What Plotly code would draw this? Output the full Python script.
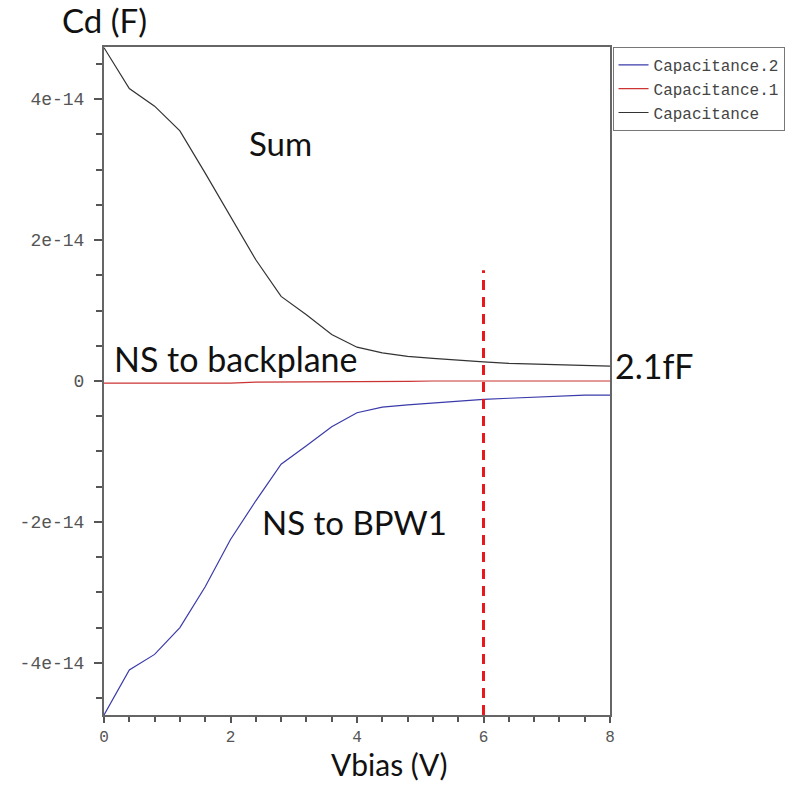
import plotly.graph_objects as go

vbias = [0.0, 0.4, 0.8, 1.2, 1.6, 2.0, 2.4, 2.8, 3.2, 3.6, 4.0,
         4.4, 4.8, 5.2, 5.6, 6.0, 6.4, 6.8, 7.2, 7.6, 8.0]
# values in units of 1e-14 F
cap_sum = [4.73, 4.15, 3.90, 3.55, 2.95, 2.33, 1.72, 1.20, 0.94, 0.66, 0.48,
           0.40, 0.35, 0.32, 0.29, 0.27, 0.25, 0.24, 0.23, 0.22, 0.21]
cap_bpw1 = [-4.74, -4.10, -3.88, -3.50, -2.92, -2.25, -1.70, -1.18, -0.92, -0.65, -0.45,
            -0.37, -0.34, -0.31, -0.285, -0.26, -0.245, -0.23, -0.21, -0.20, -0.20]
cap_backplane = [-0.03, -0.03, -0.03, -0.03, -0.03, -0.03, -0.015, -0.015, -0.015, -0.015, -0.015,
                 -0.005, -0.005, 0.0, 0.0, 0.0, 0.0, 0.0, 0.0, 0.0, 0.0]
scale = 1e-14

ytick_vals = [-4e-14, -2e-14, 0, 2e-14, 4e-14]
ytick_text = ["-4e-14", "-2e-14", "0", "2e-14", "4e-14"]
xtick_vals = [0, 2, 4, 6, 8]
xtick_text = ["0", "2", "4", "6", "8"]
marker_v = 6.0
marker_top = 1.57e-14
y_range = [-4.74e-14, 4.74e-14]

fig = go.Figure()
fig.add_trace(go.Scatter(x=vbias, y=[v * scale for v in cap_bpw1], mode="lines",
                         name="Capacitance.2", line=dict(color="#3a3aaa", width=1.2)))
fig.add_trace(go.Scatter(x=vbias, y=[v * scale for v in cap_backplane], mode="lines",
                         name="Capacitance.1", line=dict(color="#cc3333", width=1.2)))
fig.add_trace(go.Scatter(x=vbias, y=[v * scale for v in cap_sum], mode="lines",
                         name="Capacitance", line=dict(color="#333333", width=1.2)))

fig.add_shape(type="line", x0=marker_v, x1=marker_v, y0=y_range[0], y1=marker_top,
              xref="x", yref="y", line=dict(color="#e8181c", width=3, dash="10px,7px"))

axis_common = dict(showline=True, linecolor="#666666", linewidth=2, mirror=True,
                   showgrid=False, zeroline=False, ticks="outside",
                   tickwidth=1.5, tickcolor="#555555")

fig.update_xaxes(range=[0, 8], tickvals=xtick_vals, ticktext=xtick_text, ticklen=6,
                 tickfont=dict(family="Liberation Mono", size=16, color="#555555"),
                 minor=dict(dtick=0.4, ticks="outside", ticklen=5, tickcolor="#555555", tickwidth=1.5),
                 ticklabelstandoff=0, **axis_common)
fig.update_yaxes(range=y_range, tickvals=ytick_vals, ticktext=ytick_text, ticklen=8,
                 tickfont=dict(family="Liberation Mono", size=18, color="#555555"),
                 minor=dict(dtick=0.5e-14, ticks="outside", ticklen=6, tickcolor="#555555", tickwidth=1.5),
                 ticklabelstandoff=6, **axis_common)

afont = dict(family="Lato", size=33, color="#111111")
fig.add_annotation(text="Cd (F)", xref="paper", yref="paper", x=0.0, y=1.04,
                   xanchor="center", yanchor="middle", showarrow=False, font=afont)
fig.add_annotation(text="Sum", xref="x", yref="y", x=2.26, y=3.38e-14,
                   xanchor="left", yanchor="middle", showarrow=False, font=afont)
fig.add_annotation(text="NS to backplane", xref="x", yref="y", x=0.12, y=0.32e-14,
                   xanchor="left", yanchor="middle", showarrow=False, font=dict(family="Lato", size=34, color="#111111"))
fig.add_annotation(text="2.1fF", xref="paper", yref="y", x=1.005, y=0.22e-14,
                   xanchor="left", yanchor="middle", showarrow=False, font=dict(family="Lato", size=34, color="#111111"))
fig.add_annotation(text="NS to BPW1", xref="x", yref="y", x=2.46, y=-2.0e-14,
                   xanchor="left", yanchor="middle", showarrow=False, font=afont)
fig.add_annotation(text="Vbias (V)", xref="paper", yref="paper", x=0.565, y=-0.0735,
                   xanchor="center", yanchor="middle", showarrow=False, font=dict(family="Lato", size=30, color="#111111"))

fig.update_layout(
    width=812, height=785,
    margin=dict(l=104, r=202, t=47, b=70),
    paper_bgcolor="white", plot_bgcolor="white",
    showlegend=True,
    legend=dict(x=1.005, y=1.0, xanchor="left", yanchor="top",
                bordercolor="#777777", borderwidth=1, bgcolor="white",
                font=dict(family="Liberation Mono", size=16, color="#444444"),
                itemwidth=30, tracegroupgap=0),
)

fig.write_html("out.html", config={"displayModeBar": False},
               post_script="document.body.style.margin='0';")
